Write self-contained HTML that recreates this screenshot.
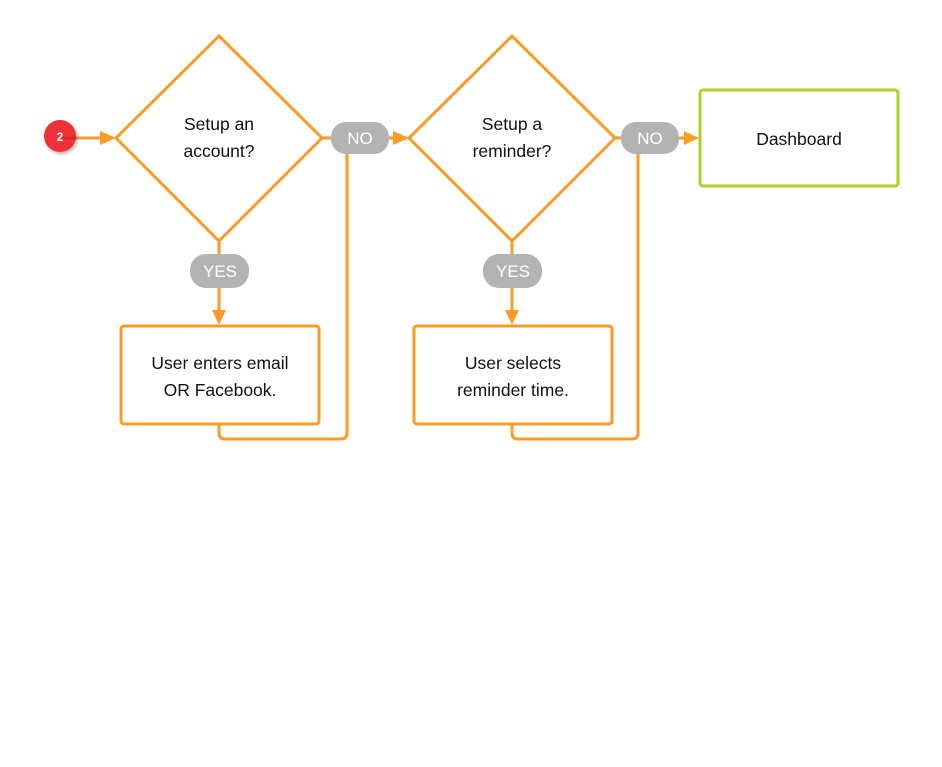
<!DOCTYPE html>
<html><head><meta charset="utf-8"><style>
html,body{margin:0;padding:0;background:#fff;}
svg{display:block;}
.t{font-family:"Liberation Sans",sans-serif;font-size:17.5px;fill:#111;text-anchor:middle;}
.p{font-family:"Liberation Sans Narrow","Liberation Sans",sans-serif;font-size:17px;fill:#fff;text-anchor:middle;}
</style></head><body>
<svg width="942" height="767" viewBox="0 0 942 767" xmlns="http://www.w3.org/2000/svg">
<defs>
<filter id="sh" x="-50%" y="-50%" width="200%" height="200%"><feDropShadow dx="1.5" dy="2" stdDeviation="1.5" flood-color="#000" flood-opacity="0.3"/></filter>
</defs>
<g stroke="#F99B25" stroke-width="3" fill="none">
<polygon points="116,138 219,36 322,138 219,241" fill="#fff" stroke-linejoin="miter"/>
<polygon points="409,138 512,36 615,138 512,241" fill="#fff"/>
<rect x="121" y="326" width="198" height="98" rx="3" fill="#fff"/>
<rect x="414" y="326" width="198" height="98" rx="3" fill="#fff"/>
<line x1="60" y1="138" x2="102" y2="138"/>
<line x1="322" y1="138" x2="395" y2="138"/>
<line x1="615" y1="138" x2="686" y2="138"/>
<line x1="219" y1="241" x2="219" y2="312"/>
<line x1="512" y1="241" x2="512" y2="312"/>
<path d="M347,140 V433 Q347,439 341,439 H225 Q219,439 219,433 V424"/>
<path d="M638,140 V433 Q638,439 632,439 H518 Q512,439 512,433 V424"/>
</g>
<rect x="700" y="90" width="198" height="96" rx="3" fill="#fff" stroke="#A8D322" stroke-width="3"/>
<g fill="#F99B25">
<polygon points="100,131 116,138 100,145"/>
<polygon points="393,131 409,138 393,145"/>
<polygon points="684,131 699,138 684,145"/>
<polygon points="212,310 219,325 226,310"/>
<polygon points="505,310 512,325 519,310"/>
</g>
<g fill="#B3B3B3">
<rect x="331" y="122" width="58" height="32" rx="15"/>
<rect x="621" y="122" width="58" height="32" rx="15"/>
<rect x="190" y="254" width="59" height="34" rx="16"/>
<rect x="483" y="254" width="59" height="34" rx="16"/>
</g>
<text class="p" x="360" y="144">NO</text>
<text class="p" x="650" y="144">NO</text>
<text class="p" x="220" y="277">YES</text>
<text class="p" x="513" y="277">YES</text>
<circle cx="60" cy="136" r="16" fill="#EF3237" filter="url(#sh)"/>
<line x1="62" y1="138" x2="76" y2="138" stroke="#E8201E" stroke-width="3"/>
<text x="60" y="141" font-family="Liberation Sans,sans-serif" font-weight="bold" font-size="12" fill="#fff" text-anchor="middle">2</text>
<text class="t" x="219" y="130">Setup an</text>
<text class="t" x="219" y="157">account?</text>
<text class="t" x="512" y="130">Setup a</text>
<text class="t" x="512" y="157">reminder?</text>
<text class="t" x="220" y="369">User enters email</text>
<text class="t" x="220" y="396">OR Facebook.</text>
<text class="t" x="513" y="369">User selects</text>
<text class="t" x="513" y="396">reminder time.</text>
<text class="t" x="799" y="145">Dashboard</text>
</svg>
</body></html>
